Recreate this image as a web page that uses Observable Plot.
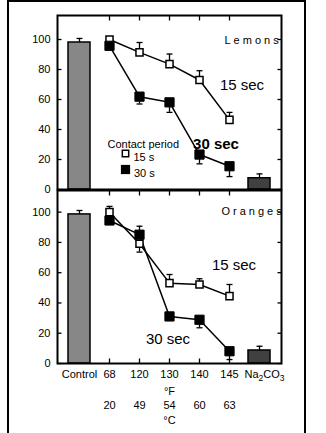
<!DOCTYPE html>
<html><head><meta charset="utf-8">
<script src="https://cdn.jsdelivr.net/npm/d3@7"></script>
<script src="https://cdn.jsdelivr.net/npm/@observablehq/plot@0.6"></script>
<style>
html,body{margin:0;padding:0;background:#fff;}
#wrap{position:relative;width:326px;height:433px;overflow:hidden;font-family:"Liberation Sans",Arial,sans-serif;}
#box{position:absolute;left:7px;top:0;width:295px;height:460px;border:2px solid #000;border-bottom:none;}
#top,#bot{position:absolute;left:0;}
#top{top:0px;} #bot{top:188px;}
svg{overflow:visible;}
</style></head><body>
<div id="wrap"><div id="box"></div><div id="top"></div><div id="bot"></div></div>
<script>
// ---- data ----
const categories = ["Control", "68", "120", "130", "140", "145", "Na2CO3"];
const temps = ["68", "120", "130", "140", "145"];
const xLabelRow1 = ["Control", "68", "120", "130", "140", "145", "Na₂CO₃"];
const xLabelRow2 = ["", "", "", "°F", "", "", ""];
const xLabelRow3 = ["", "20", "49", "54", "60", "63", ""];
const xLabelRow4 = ["", "", "", "°C", "", "", ""];
const yTicks = [0, 20, 40, 60, 80, 100];
const barCats = ["Control", "Na2CO3"];
const barColors = ["#878787", "#404040"];

// Lemons
const lemonBars = [98, 7.5];
const lemonBarErr = [2.7, 2.9];
const lemon15 = [100, 91.4, 83.6, 73, 46.4];
const lemon15Err = [1, 6.6, 6.7, 6.2, 5];      // + drawn upward
const lemon30 = [95.8, 61.9, 58.1, 23.3, 15.5];
const lemon30Err = [-1, -4.9, -6.7, -6.2, -6.9]; // - drawn downward

// Oranges
const orangeBars = [98.5, 8.6];
const orangeBarErr = [2.6, 2.8];
const orange15 = [100, 79.1, 53.1, 52.2, 44.5];
const orange15Err = [3.8, -5.5, 5.7, 3.8, 7.7];
const orange30 = [94.5, 85.1, 31.1, 28.9, 8.1];
const orange30Err = [-2.6, 5.6, -1.5, -5.3, -5.5];

// ---- helpers ----
const hTick = len => ({draw(c) { c.moveTo(0, 0); c.lineTo(len, 0); }});
const vTick = len => ({draw(c) { c.moveTo(0, 0); c.lineTo(0, len); }});
const capSym = {draw(c) { c.moveTo(-3, 0); c.lineTo(3, 0); }};

function errMarks(rows) {
  return [
    Plot.ruleX(rows, {x: "cat", y1: "v", y2: d => d.v + d.e, stroke: "black", strokeWidth: 1.3}),
    Plot.dot(rows, {x: "cat", y: d => d.v + d.e, symbol: capSym, r: 3, fill: "none", stroke: "black", strokeWidth: 1.3})
  ];
}

function panel(o) {
  const barRows = barCats.map((c, i) => ({cat: c, v: o.bars[i], e: o.barErr[i], fill: barColors[i]}));
  const r15 = temps.map((t, i) => ({cat: t, v: o.s15[i], e: o.e15[i]}));
  const r30 = temps.map((t, i) => ({cat: t, v: o.s30[i], e: o.e30[i]}));
  const marks = [
    Plot.barY(barRows, {x: "cat", y: "v", fill: "fill", stroke: "black", strokeWidth: 1.5}),
    ...errMarks(barRows),
    Plot.line(r15, {x: "cat", y: "v", stroke: "black", strokeWidth: 1.5}),
    Plot.line(r30, {x: "cat", y: "v", stroke: "black", strokeWidth: 1.5}),
    ...errMarks(r15), ...errMarks(r30),
    Plot.dot(r15, {x: "cat", y: "v", symbol: "square", r: 4, fill: "white", stroke: "black", strokeWidth: 1.5}),
    Plot.dot(r30, {x: "cat", y: "v", symbol: "square", r: 5.2, fill: "black", stroke: "black", strokeWidth: 1}),
    Plot.frame({stroke: "black", strokeWidth: 2}),
    Plot.dot(yTicks, {y: d => d, frameAnchor: "left", symbol: hTick(4), r: 3, fill: "none", stroke: "black", strokeWidth: 1.3}),
    Plot.dot(yTicks, {y: d => d, frameAnchor: "right", symbol: hTick(-4), r: 3, fill: "none", stroke: "black", strokeWidth: 1.3}),
    Plot.dot(temps, {x: d => d, frameAnchor: "top", symbol: vTick(5), r: 3, fill: "none", stroke: "black", strokeWidth: 1.3}),
    Plot.text(yTicks, {y: d => d, text: d => String(d), frameAnchor: "left", dx: -7, textAnchor: "end", fontSize: 11}),
    Plot.text([o.name], {text: d => d, frameAnchor: "top-left", dx: o.nameDx, dy: o.nameDy, textAnchor: "start", fontSize: 11, clip: true}),
    ...o.extra
  ];
  if (o.xAxis) {
    marks.push(
      Plot.dot(temps, {x: d => d, frameAnchor: "bottom", symbol: vTick(-5), r: 3, fill: "none", stroke: "black", strokeWidth: 1.3}),
      Plot.text(categories, {x: d => d, text: (d, i) => xLabelRow1[i],
        frameAnchor: "bottom", textAnchor: "middle", lineAnchor: "top", dy: 7, fontSize: 11}),
      Plot.text(categories, {x: d => d, text: (d, i) => [xLabelRow2[i], xLabelRow3[i], xLabelRow4[i]].join("\n"),
        frameAnchor: "bottom", textAnchor: "middle", lineAnchor: "top", dy: 7 + 14.3, lineHeight: 1.3, fontSize: 11})
    );
  }
  return Plot.plot({
    width: 326, height: o.height,
    marginLeft: 57, marginRight: 45, marginTop: o.marginTop, marginBottom: o.marginBottom,
    x: {type: "band", domain: categories, paddingInner: 0.27, paddingOuter: 0.33, axis: null},
    y: {domain: [0, o.yMax], axis: null},
    color: {type: "identity"},
    style: {fontFamily: "'Liberation Sans', Arial, sans-serif", fontSize: "11px", background: "transparent", color: "black", overflow: "visible"},
    marks
  });
}

const topPlot = panel({
  name: "Lemons", nameDx: 167, nameDy: 21, height: 190, marginTop: 15, marginBottom: 1, yMax: 116,
  bars: lemonBars, barErr: lemonBarErr, s15: lemon15, e15: lemon15Err, s30: lemon30, e30: lemon30Err, xAxis: false,
  extra: [
    Plot.text(["15 sec"], {text: d => d, frameAnchor: "top-left", textAnchor: "middle", dx: 184.5, dy: 64, fontSize: 15}),
    Plot.text(["30 sec"], {text: d => d, frameAnchor: "top-left", textAnchor: "middle", dx: 158.5, dy: 123, fontSize: 15, fontWeight: "bold"}),
    Plot.text(["Contact period"], {text: d => d, frameAnchor: "top-left", dx: 50, dy: 125, textAnchor: "start", fontSize: 11}),
    Plot.dot([0], {frameAnchor: "top-left", dx: 68, dy: 138, symbol: "square", r: 3.6, fill: "white", stroke: "black", strokeWidth: 1.5}),
    Plot.dot([0], {frameAnchor: "top-left", dx: 68, dy: 154, symbol: "square", r: 5.2, fill: "black"}),
    Plot.text(["15 s"], {text: d => d, frameAnchor: "top-left", dx: 76, dy: 138, textAnchor: "start", fontSize: 11}),
    Plot.text(["30 s"], {text: d => d, frameAnchor: "top-left", dx: 76.5, dy: 154, textAnchor: "start", fontSize: 11})
  ]
});
const botPlot = panel({
  name: "Oranges", nameDx: 164, nameDy: 17, height: 240, marginTop: 2, marginBottom: 65, yMax: 114.3,
  bars: orangeBars, barErr: orangeBarErr, s15: orange15, e15: orange15Err, s30: orange30, e30: orange30Err, xAxis: true,
  extra: [
    Plot.text(["15 sec"], {text: d => d, frameAnchor: "top-left", textAnchor: "middle", dx: 176.5, dy: 69, fontSize: 15}),
    Plot.text(["30 sec"], {text: d => d, frameAnchor: "top-left", textAnchor: "middle", dx: 110.5, dy: 143, fontSize: 15})
  ]
});
for (const p of [topPlot, botPlot]) {
  p.querySelectorAll("text").forEach(t => {
    if (t.textContent === "Lemons" || t.textContent === "Oranges") t.setAttribute("letter-spacing", "3");
    if (t.textContent === "Na₂CO₃") {
      t.textContent = "";
      const parts = [["Na", 0, 11], ["2", 3, 8.5], ["CO", -3, 11], ["3", 3, 8.5]];
      for (const [s, dy, fs] of parts) {
        const ts = document.createElementNS("http://www.w3.org/2000/svg", "tspan");
        ts.textContent = s;
        if (dy) ts.setAttribute("dy", dy);
        ts.setAttribute("font-size", fs);
        t.appendChild(ts);
      }
      t.setAttribute("dx", "5");
    }
  });
}
document.getElementById("top").appendChild(topPlot);
document.getElementById("bot").appendChild(botPlot);
</script>
</body></html>
